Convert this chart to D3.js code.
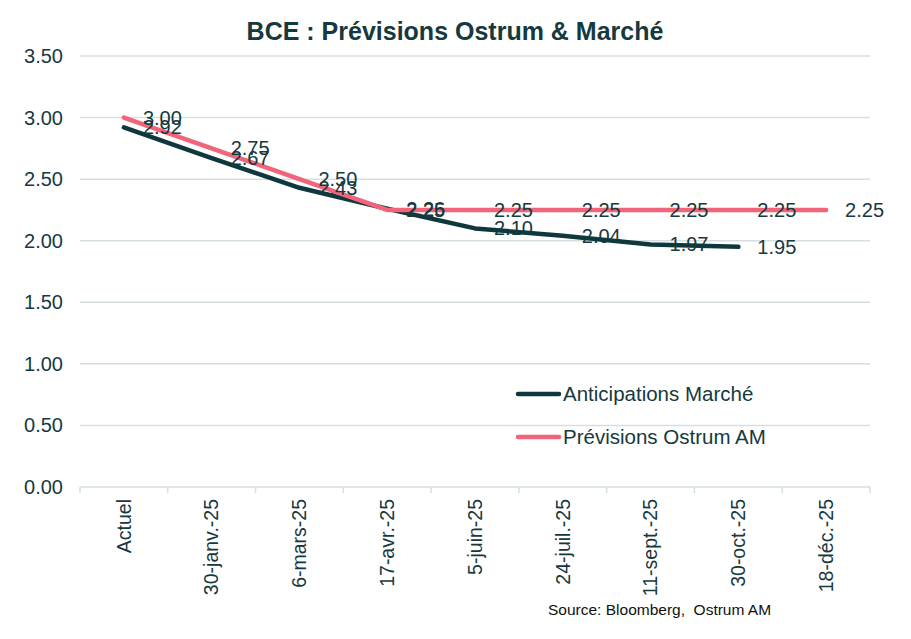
<!DOCTYPE html>
<html><head><meta charset="utf-8">
<script src="https://cdn.jsdelivr.net/npm/d3@7"></script>
<style>body{margin:0;background:#fff}</style>
</head><body><div id="chart"></div>
<script>
const categories = ["Actuel","30-janv.-25","6-mars-25","17-avr.-25","5-juin-25","24-juil.-25","11-sept.-25","30-oct.-25","18-déc.-25"];
const marche = [2.92, 2.67, 2.43, 2.26, 2.10, 2.04, 1.97, 1.95];
const ostrum = [3.00, 2.75, 2.50, 2.25, 2.25, 2.25, 2.25, 2.25, 2.25];
const yTicks = [0, 0.5, 1, 1.5, 2, 2.5, 3, 3.5];
const seriesNames = ["Anticipations Marché", "Prévisions Ostrum AM"];
const title = "BCE : Prévisions Ostrum & Marché";
const source = "Source: Bloomberg,  Ostrum AM";

const W = 911, H = 639;
const dark = "#0f383c", pink = "#f2647a", txt = "#16393d", grid = "#d5dfe2";
const narrow = "'Liberation Sans Narrow','Arial Narrow',Arial,sans-serif";
const sans = "'Liberation Sans',Arial,sans-serif";

const svg = d3.select("#chart").append("svg").attr("width", W).attr("height", H);
const x = d3.scaleBand().domain(categories).range([80, 870]);
const y = d3.scaleLinear().domain([0, 3.5]).range([487, 56]);
const cx = d => x(d) + x.bandwidth() / 2;

svg.append("text").attr("x", 455).attr("y", 40).attr("text-anchor", "middle")
  .attr("font-family", narrow).attr("font-weight", "bold").attr("font-size", 25)
  .attr("fill", txt).text(title);

svg.append("g").selectAll("line").data(yTicks.filter(t => t > 0)).join("line")
  .attr("x1", 80).attr("x2", 870).attr("y1", d => y(d)).attr("y2", d => y(d))
  .attr("stroke", grid).attr("stroke-width", 1.5);

svg.append("g").selectAll("text").data(yTicks).join("text")
  .attr("x", 63).attr("y", d => y(d)).attr("dy", "0.35em").attr("text-anchor", "end")
  .attr("font-family", sans).attr("font-size", 20).attr("fill", txt)
  .text(d => d.toFixed(2));

const xa = svg.append("g").attr("transform", "translate(0,487)");
xa.append("line").attr("x1", 80).attr("x2", 870).attr("stroke", grid).attr("stroke-width", 1.5);
const bounds = categories.map(c => x(c)).concat([870]);
xa.selectAll("line.tk").data(bounds).join("line").attr("class", "tk")
  .attr("x1", d => d).attr("x2", d => d).attr("y1", 0).attr("y2", 6)
  .attr("stroke", grid).attr("stroke-width", 1.5);
xa.selectAll("text").data(categories).join("text")
  .attr("transform", d => `translate(${cx(d)},12) rotate(-90)`)
  .attr("text-anchor", "end").attr("dy", "0.35em")
  .attr("font-family", sans).attr("font-size", 19.5).attr("fill", txt)
  .text(d => d);

const line = d3.line().x((d, i) => cx(categories[i])).y(d => y(d));
svg.append("path").datum(marche).attr("d", line).attr("fill", "none")
  .attr("stroke", dark).attr("stroke-width", 4.5).attr("stroke-linejoin", "round").attr("stroke-linecap", "round");
svg.append("path").datum(ostrum).attr("d", line).attr("fill", "none")
  .attr("stroke", pink).attr("stroke-width", 4.5).attr("stroke-linejoin", "round").attr("stroke-linecap", "round");

function labels(data) {
  svg.append("g").selectAll("text").data(data).join("text")
    .attr("x", (d, i) => cx(categories[i]) + 19).attr("y", d => y(d)).attr("dy", "0.35em")
    .attr("font-family", sans).attr("font-size", 20).attr("fill", txt)
    .text(d => d.toFixed(2));
}
labels(ostrum);
labels(marche);

const leg = [[seriesNames[0], dark, 394], [seriesNames[1], pink, 437]];
leg.forEach(([n, c, yy]) => {
  svg.append("line").attr("x1", 518).attr("x2", 559).attr("y1", yy).attr("y2", yy)
    .attr("stroke", c).attr("stroke-width", 4.5).attr("stroke-linecap", "round");
  svg.append("text").attr("x", 563).attr("y", yy).attr("dy", "0.35em")
    .attr("font-family", sans).attr("font-size", 20.5).attr("fill", txt).text(n);
});

svg.append("text").attr("x", 548).attr("y", 615).style("white-space", "pre")
  .attr("font-family", narrow).attr("font-size", 15.5).attr("fill", "#111").text(source);
</script></body></html>
